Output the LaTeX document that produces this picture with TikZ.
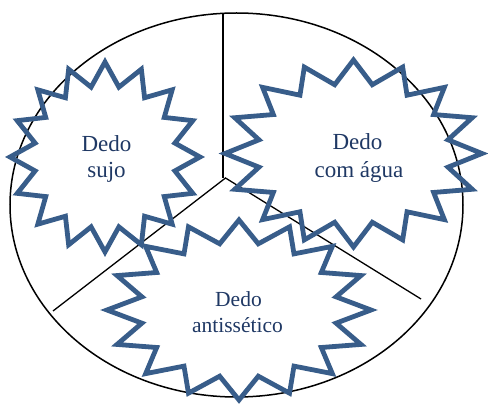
\documentclass[tikz,border=0pt]{standalone}
\usepackage{fontspec}
\setmainfont{Liberation Serif}
\usetikzlibrary{calc}
\definecolor{starblue}{HTML}{385D8A}
\definecolor{textblue}{HTML}{1F3864}
\tikzset{
  starline/.style={draw=starblue,line width=4.8pt,line join=miter,miter limit=10},
  divline/.style={draw=black,line width=1.3pt},
  label/.style={text=textblue,inner sep=0pt,anchor=base},
  bigfont/.style={font=\fontsize{23}{27}\selectfont},
  smallfont/.style={font=\fontsize{21.5}{26}\selectfont}
}
% 16-point star: #1 center, #2 rx, #3 ry
\newcommand{\sixteenstar}[3]{%
  \draw[starline,shift={#1}] (90:#2 and #3)
    \foreach \k in {0,...,14}{
      -- ({101.25+22.5*\k}:{0.75*#2} and {0.75*#3})
      -- ({112.5+22.5*\k}:#2 and #3)
    }
    -- ({101.25+22.5*15}:{0.75*#2} and {0.75*#3}) -- cycle;
}
\begin{document}
\begin{tikzpicture}[x=1pt,y=1pt]
\useasboundingbox (0,0) rectangle (488,407);
% big ellipse
\draw[line width=1.5pt] (236.5,202) ellipse [x radius=226.5, y radius=192];
% dividing lines
\coordinate (top) at (223,393);
\coordinate (mid) at (223,229);
\coordinate (o) at (225.5,229);
\coordinate (ll) at (53,96);
\coordinate (lr) at (421,108);
\draw[divline] (top) -- (mid);
\draw[divline] (ll) -- (o) -- (lr);
% stars
\sixteenstar{(105,250)}{95}{95}
\sixteenstar{(353.5,253.5)}{128.5}{93.5}
\sixteenstar{(239,97)}{132}{90}
% labels
\node[label,bigfont] (s1a) at (106.5,255) {Dedo};
\node[label,bigfont] (s1b) at (106.5,229) {sujo};
\node[label,bigfont] (s2a) at (357.5,257) {Dedo};
\node[label,bigfont] (s2b) at (359,229) {com água};
\node[label,smallfont] (s3a) at (238.5,100) {Dedo};
\node[label,smallfont] (s3b) at (237.5,74) {antissético};
\end{tikzpicture}
\end{document}
